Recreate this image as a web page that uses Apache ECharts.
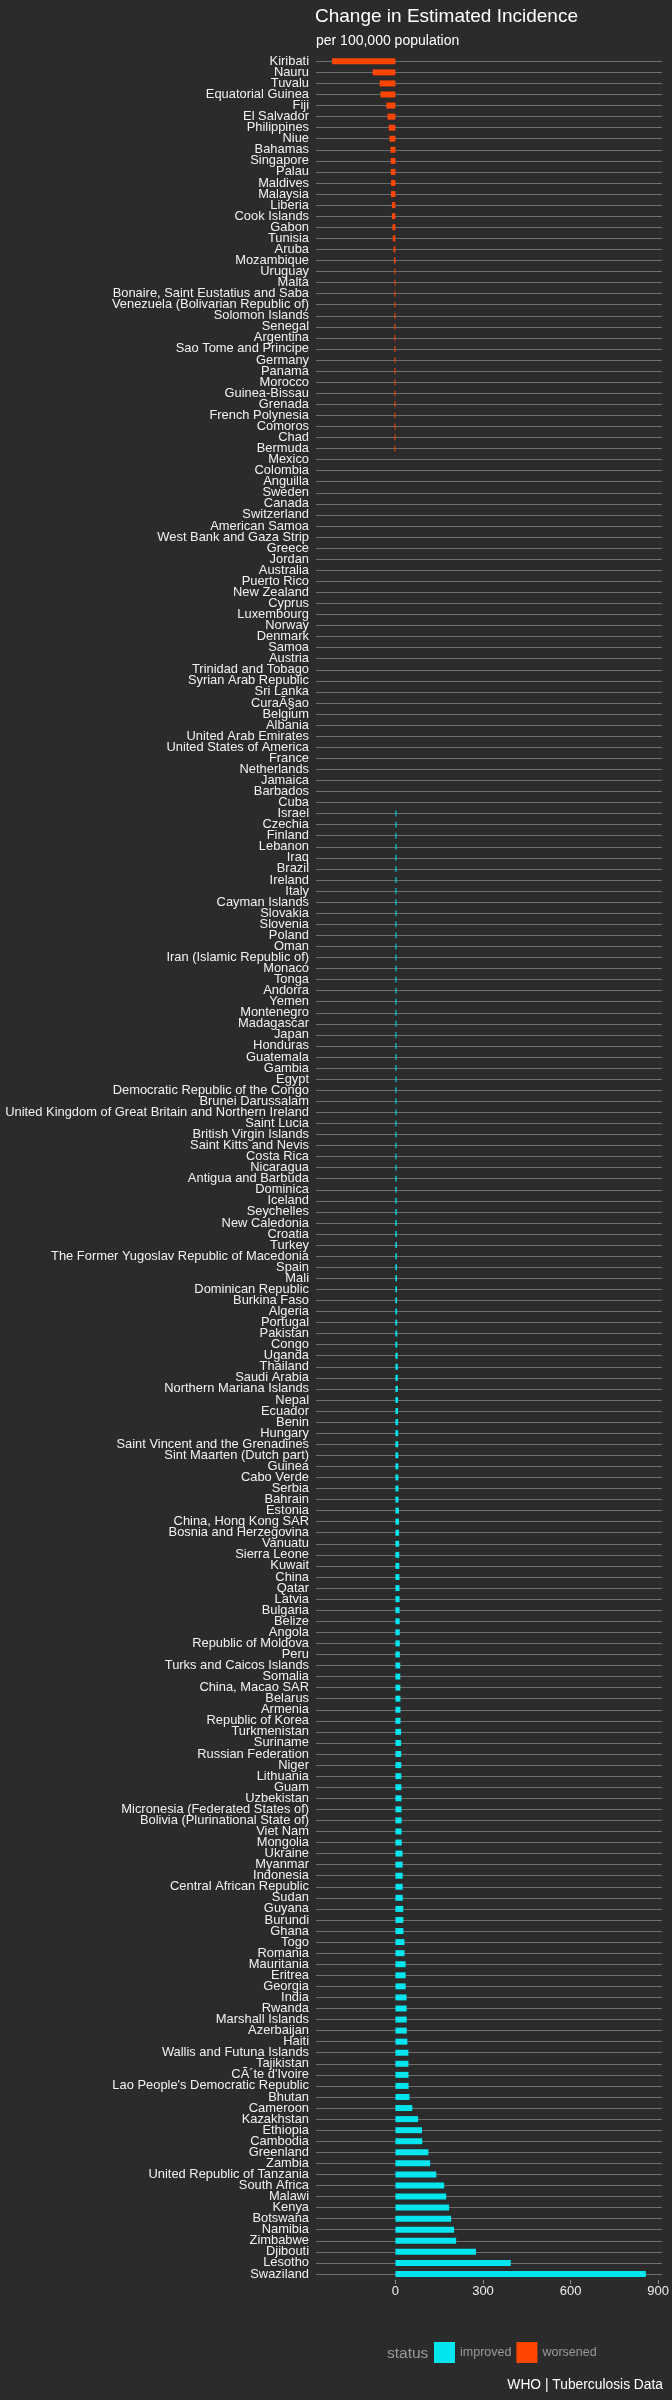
<!DOCTYPE html>
<html>
<head>
<meta charset="utf-8">
<script src="https://cdn.jsdelivr.net/npm/echarts@6/dist/echarts.min.js"></script>
<style>
html,body{margin:0;padding:0;background:#2b2b2b;}
#chart{width:672px;height:2400px;}
</style>
</head>
<body>
<div id="chart"></div>
<script>
var countries = [
"Kiribati","Nauru","Tuvalu","Equatorial Guinea","Fiji","El Salvador","Philippines","Niue","Bahamas","Singapore",
"Palau","Maldives","Malaysia","Liberia","Cook Islands","Gabon","Tunisia","Aruba","Mozambique","Uruguay",
"Malta","Bonaire, Saint Eustatius and Saba","Venezuela (Bolivarian Republic of)","Solomon Islands","Senegal","Argentina","Sao Tome and Principe","Germany","Panama","Morocco",
"Guinea-Bissau","Grenada","French Polynesia","Comoros","Chad","Bermuda","Mexico","Colombia","Anguilla","Sweden",
"Canada","Switzerland","American Samoa","West Bank and Gaza Strip","Greece","Jordan","Australia","Puerto Rico","New Zealand","Cyprus",
"Luxembourg","Norway","Denmark","Samoa","Austria","Trinidad and Tobago","Syrian Arab Republic","Sri Lanka","CuraÃ§ao","Belgium",
"Albania","United Arab Emirates","United States of America","France","Netherlands","Jamaica","Barbados","Cuba","Israel","Czechia",
"Finland","Lebanon","Iraq","Brazil","Ireland","Italy","Cayman Islands","Slovakia","Slovenia","Poland",
"Oman","Iran (Islamic Republic of)","Monaco","Tonga","Andorra","Yemen","Montenegro","Madagascar","Japan","Honduras",
"Guatemala","Gambia","Egypt","Democratic Republic of the Congo","Brunei Darussalam","United Kingdom of Great Britain and Northern Ireland","Saint Lucia","British Virgin Islands","Saint Kitts and Nevis","Costa Rica",
"Nicaragua","Antigua and Barbuda","Dominica","Iceland","Seychelles","New Caledonia","Croatia","Turkey","The Former Yugoslav Republic of Macedonia","Spain",
"Mali","Dominican Republic","Burkina Faso","Algeria","Portugal","Pakistan","Congo","Uganda","Thailand","Saudi Arabia",
"Northern Mariana Islands","Nepal","Ecuador","Benin","Hungary","Saint Vincent and the Grenadines","Sint Maarten (Dutch part)","Guinea","Cabo Verde","Serbia",
"Bahrain","Estonia","China, Hong Kong SAR","Bosnia and Herzegovina","Vanuatu","Sierra Leone","Kuwait","China","Qatar","Latvia",
"Bulgaria","Belize","Angola","Republic of Moldova","Peru","Turks and Caicos Islands","Somalia","China, Macao SAR","Belarus","Armenia",
"Republic of Korea","Turkmenistan","Suriname","Russian Federation","Niger","Lithuania","Guam","Uzbekistan","Micronesia (Federated States of)","Bolivia (Plurinational State of)",
"Viet Nam","Mongolia","Ukraine","Myanmar","Indonesia","Central African Republic","Sudan","Guyana","Burundi","Ghana",
"Togo","Romania","Mauritania","Eritrea","Georgia","India","Rwanda","Marshall Islands","Azerbaijan","Haiti",
"Wallis and Futuna Islands","Tajikistan","CÃ´te d'Ivoire","Lao People's Democratic Republic","Bhutan","Cameroon","Kazakhstan","Ethiopia","Cambodia","Greenland",
"Zambia","United Republic of Tanzania","South Africa","Malawi","Kenya","Botswana","Namibia","Zimbabwe","Djibouti","Lesotho",
"Swaziland"
];

var changes = [
-217,-78,-54,-51,-31,-27,-23,-20,-17,-16,
-16,-15,-15,-12,-12,-10,-9,-6,-5,-3,
-3,-3,-2.5,-2.5,-2,-2,-2,-1.5,-1.5,-1.5,
-1,-1,-1,-1,-0.5,-0.5,0,0,0,0,
0,0,0,0,0,0,0,0,0,0,
0,0,0,0,0,0,0,0,0,0,
0,0,0,0,0,0,0,0,0.5,0.5,
0.6,0.7,0.8,0.9,1.0,1.0,1.1,1.2,1.3,1.4,
1.5,1.5,1.6,1.7,1.8,1.9,2.0,2.0,2.1,2.2,
2.3,2.4,2.5,2.6,2.7,2.8,2.9,3.0,3.0,3.1,
3.3,4.0,4.2,4.4,4.5,4.6,4.8,5.0,5.0,5.2,
5.4,5.5,5.6,5.8,6.0,6.1,6.3,8.0,8.2,8.4,
8.6,8.8,9.0,9.2,9.4,9.6,9.8,10.0,10.2,10.4,
10.6,12.0,12.3,12.6,12.9,13.2,13.5,13.8,14.0,14.2,
14.4,14.6,14.8,15.0,15.2,16.5,16.7,16.9,17.1,17.3,
17.5,19.5,19.7,19.9,20.1,20.3,20.5,20.7,20.9,21.1,
21.3,21.5,24.5,24.7,24.9,25.1,25.3,27.0,27.3,27.6,
31.0,31.3,35.0,35.2,35.4,38.3,38.5,38.7,38.9,41.0,
44.5,44.7,44.9,45.1,48.0,58.0,78.0,91.0,92.0,113.0,
119.0,140.0,167.0,174.0,184.0,191.0,201.0,208.0,276.0,395.0,
858.0
];

var xTicks = [0, 300, 600, 900];
var statusNames = ["improved", "worsened"];

var improvedData = changes.map(function (v) { return v > 0 ? v : '-'; });
var worsenedData = changes.map(function (v) { return v < 0 ? v : '-'; });

var chart = echarts.init(document.getElementById('chart'), null, {renderer: 'canvas'});
var font = 'Liberation Sans, Arial, sans-serif';

chart.setOption({
  backgroundColor: '#2b2b2b',
  animation: false,
  title: [
    {text: 'Change in Estimated Incidence', left: 315, top: 7, padding: 0,
     textStyle: {color: '#ffffff', fontSize: 19, fontWeight: 'normal', fontFamily: font}},
    {text: 'per 100,000 population', left: 316, top: 34, padding: 0,
     textStyle: {color: '#ffffff', fontSize: 14, fontWeight: 'normal', fontFamily: font}},
    {text: 'status', left: 387, top: 2346, padding: 0,
     textStyle: {color: '#9a9a9a', fontSize: 15.5, fontWeight: 'normal', fontFamily: font}},
    {text: 'WHO | Tuberculosis Data', right: 9, top: 2378, padding: 0,
     textStyle: {color: '#ffffff', fontSize: 13.8, fontWeight: 'normal', fontFamily: font}}
  ],
  legend: {
    data: statusNames,
    left: 434, top: 2342,
    itemWidth: 21, itemHeight: 21, itemGap: 5,
    icon: 'rect',
    padding: 0,
    textStyle: {color: '#9a9a9a', fontSize: 12.5, fontFamily: font}
  },
  grid: {left: 316, right: 8, top: 61.3, height: 2212.7, containLabel: false},
  xAxis: {
    type: 'value', min: -272, max: 913,
    offset: 6,
    axisLine: {show: false},
    splitLine: {show: false},
    axisTick: {show: true, customValues: xTicks, length: 4, lineStyle: {color: '#8a8a8a'}},
    axisLabel: {customValues: xTicks, color: '#eeeeee', fontSize: 13, margin: 5, fontFamily: font}
  },
  yAxis: {
    type: 'category', data: countries, inverse: true, boundaryGap: false,
    axisLine: {show: false},
    axisTick: {show: false},
    axisLabel: {interval: 0, color: '#f2f2f2', fontSize: 12.9, margin: 7, fontFamily: font},
    splitLine: {show: true, interval: 0, lineStyle: {color: '#6e6e6e', width: 1}}
  },
  series: [
    {name: 'improved', type: 'bar', data: improvedData, barWidth: 6, barGap: '-100%',
     barMinHeight: 1, clip: false, itemStyle: {color: '#00e5ee'}},
    {name: 'worsened', type: 'bar', data: worsenedData, barWidth: 6, barGap: '-100%',
     barMinHeight: 1, clip: false, itemStyle: {color: '#ff4500'}}
  ]
});
</script>
</body>
</html>
